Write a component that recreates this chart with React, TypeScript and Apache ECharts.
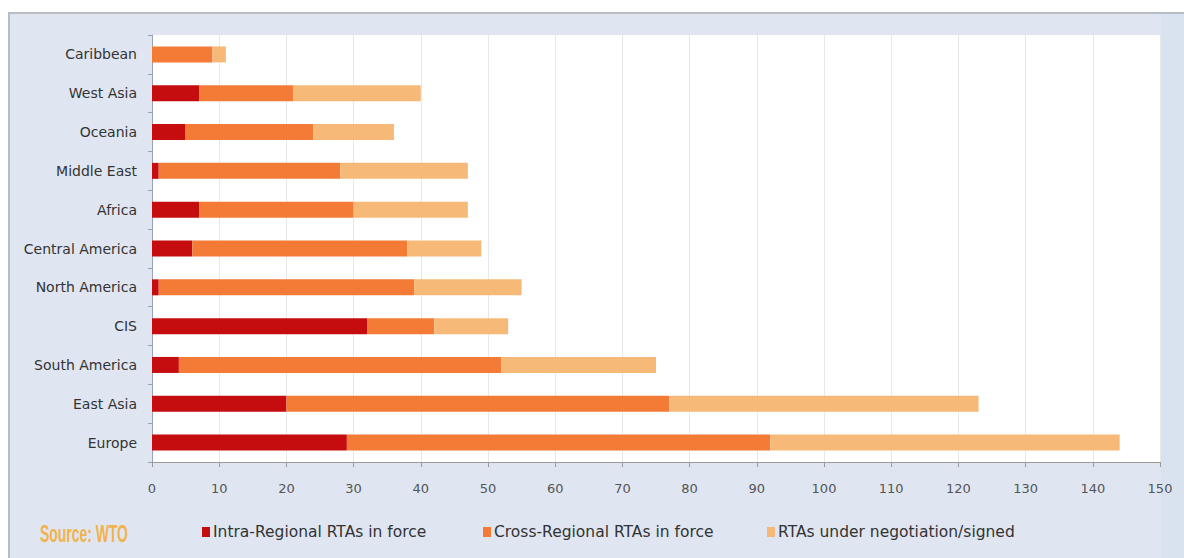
import React, { useEffect, useRef } from "react";
import * as echarts from "echarts";

const categories = [
  "Europe",
  "East Asia",
  "South America",
  "CIS",
  "North America",
  "Central America",
  "Africa",
  "Middle East",
  "Oceania",
  "West Asia",
  "Caribbean",
];
const intraRegional = [29, 20, 4, 32, 1, 6, 7, 1, 5, 7, 0];
const crossRegional = [63, 57, 48, 10, 38, 32, 23, 27, 19, 14, 9];
const underNegotiation = [52, 46, 23, 11, 16, 11, 17, 19, 12, 19, 2];
const seriesNames = [
  "Intra-Regional RTAs in force",
  "Cross-Regional RTAs in force",
  "RTAs under negotiation/signed",
];
const seriesColors = ["#c50d10", "#f37b36", "#f7b978"];
const legendLefts = [197, 478, 762];
const xTicks = { min: 0, max: 150, interval: 10 };

const FONT = "'DejaVu Sans', 'Open Sans', sans-serif";

export default function App() {
  const ref = useRef<HTMLDivElement>(null);
  useEffect(() => {
    if (!ref.current) return;
    const chart = echarts.init(ref.current, undefined, { renderer: "svg" });
    const values = [intraRegional, crossRegional, underNegotiation];
    chart.setOption({
      animation: false,
      backgroundColor: "#ffffff",
      textStyle: { fontFamily: FONT },
      graphic: [
        {
          type: "rect",
          z: -10,
          shape: { x: 9, y: 13, width: 1190, height: 560 },
          style: { fill: "#dfe6f1", stroke: "#b9bcc2", lineWidth: 2 },
        },
        {
          type: "rect",
          z: -9,
          shape: { x: 1161, y: 14, width: 30, height: 560 },
          style: { fill: "#d8e3ef" },
        },
        {
          type: "text",
          x: 40,
          y: 521,
          scaleX: 0.58,
          style: {
            text: "Source: WTO",
            fill: "#f2b24c",
            font: "bold 24px 'Liberation Sans', sans-serif",
          },
        },
      ],
      legend: seriesNames.map((name, i) => ({
        left: legendLefts[i],
        top: 519,
        itemWidth: 8,
        itemHeight: 10,
        icon: "rect",
        textStyle: { fontSize: 15.5, color: "#333", fontFamily: FONT, padding: [0, 0, 0, -2] },
        data: [name],
      })),
      grid: {
        left: 152,
        right: 24,
        top: 35,
        bottom: 96,
        show: true,
        backgroundColor: "#ffffff",
        borderWidth: 0,
      },
      xAxis: {
        type: "value",
        min: xTicks.min,
        max: xTicks.max,
        interval: xTicks.interval,
        axisLine: { show: true, lineStyle: { color: "#9a9a9a", width: 1 } },
        axisTick: { show: true, length: 5, lineStyle: { color: "#9a9a9a" } },
        axisLabel: { color: "#555", fontSize: 13, margin: 20, fontFamily: FONT },
        splitLine: { show: true, lineStyle: { color: "#e8e8ec" } },
      },
      yAxis: {
        type: "category",
        data: categories,
        axisLine: { show: true, lineStyle: { color: "#9aa4b0" } },
        axisTick: { show: true, length: 4, lineStyle: { color: "#9aa4b0" } },
        axisLabel: { color: "#333", fontSize: 14, margin: 15, fontFamily: FONT },
      },
      series: seriesNames.map((name, i) => ({
        name,
        type: "bar",
        stack: "total",
        barWidth: 16,
        itemStyle: { color: seriesColors[i] },
        data: values[i],
      })),
    });
    return () => chart.dispose();
  }, []);
  return (
    <div
      ref={ref}
      style={{ position: "fixed", left: 0, top: 0, width: 1184, height: 558 }}
    />
  );
}
